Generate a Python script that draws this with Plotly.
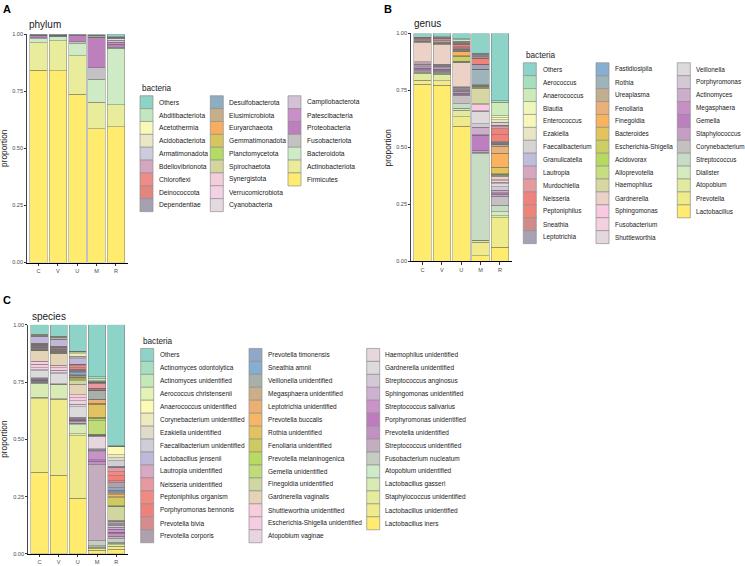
import plotly.graph_objects as go

W, H = 745, 566
FONT = "Liberation Sans, Arial, sans-serif"

samples = ["C", "V", "U", "M", "R"]

# ---------------- phylum ----------------
phylum_names = ["Others", "Abditibacteriota", "Acetothermia", "Acidobacteriota", "Armatimonadota",
                "Bdellovibrionota", "Chloroflexi", "Deinococcota", "Dependentiae", "Desulfobacterota",
                "Elusimicrobiota", "Euryarchaeota", "Gemmatimonadota", "Planctomycetota", "Spirochaetota",
                "Synergistota", "Verrucomicrobiota", "Cyanobacteria", "Campilobacterota", "Patescibacteria",
                "Proteobacteria", "Fusobacteriota", "Bacteroidota", "Actinobacteriota", "Firmicutes"]
phylum_colors = ["#8DD3C7", "#C2E6BE", "#F6F9B8", "#E9E7C5", "#CDCCDC", "#D3A7C0", "#EF8B88", "#E2857F",
                 "#A89FB3", "#8EADC2", "#C6AE8A", "#F9AD5F", "#D9C55E", "#B4DB63", "#D2D69D", "#F3CDD9",
                 "#F1D2E4", "#E5D9E0", "#D3C2D6", "#C98FC9", "#BD80BD", "#C3C1C1", "#CFEBC5", "#E9EC9B",
                 "#FFEB6E"]
phylum_C = [0.002, 0, 0, 0, 0, 0, 0, 0, 0, 0, 0, 0, 0, 0, 0.001, 0, 0, 0, 0.001, 0.001, 0.010, 0.004, 0.018, 0.120, 0.843]
phylum_V = [0.003, 0, 0, 0, 0, 0, 0, 0, 0.001, 0, 0, 0, 0, 0, 0, 0, 0, 0, 0.001, 0, 0.003, 0.002, 0.019, 0.130, 0.841]
phylum_U = [0.003, 0, 0, 0, 0, 0, 0, 0, 0, 0, 0, 0, 0, 0, 0, 0, 0, 0, 0.001, 0, 0.026, 0.012, 0.052, 0.169, 0.737]
phylum_M = [0.004, 0, 0, 0, 0, 0, 0, 0, 0.003, 0, 0, 0, 0, 0, 0.004, 0, 0, 0, 0.003, 0.002, 0.130, 0.052, 0.100, 0.115, 0.587]
phylum_R = [0.010, 0.002, 0, 0, 0.002, 0, 0, 0, 0.004, 0, 0, 0, 0, 0, 0, 0.002, 0, 0.006, 0.010, 0.008, 0.012, 0.006, 0.247, 0.097, 0.594]

# ---------------- genus ----------------
genus_names = ["Others", "Aerococcus", "Anaerococcus", "Blautia", "Enterococcus", "Ezakiella",
               "Faecalibacterium", "Granulicatella", "Lautropia", "Murdochiella", "Neisseria",
               "Peptoniphilus", "Sneathia", "Leptotrichia", "Fastidiosipila", "Rothia", "Ureaplasma",
               "Fenollaria", "Finegoldia", "Bacteroides", "Escherichia-Shigella", "Acidovorax",
               "Alloprevotella", "Haemophilus", "Gardnerella", "Sphingomonas", "Fusobacterium",
               "Shuttleworthia", "Veillonella", "Porphyromonas", "Actinomyces", "Megasphaera", "Gemella",
               "Staphylococcus", "Corynebacterium", "Streptococcus", "Dialister", "Atopobium", "Prevotella",
               "Lactobacillus"]
genus_colors = ["#8DD3C7", "#A6DFC0", "#CCEBB8", "#EEF6BC", "#F8F7BA", "#E8E5C4", "#D7D3D3", "#BFBCDC",
                "#D6A7C0", "#E49A9E", "#F0827E", "#EE8377", "#D08A88", "#A8A0B3", "#88AED0", "#9EB3BA",
                "#C0AE8E", "#E9B07A", "#F9B25F", "#E2C35E", "#CECF62", "#B6DA60", "#C7DE80", "#D7D7A4",
                "#ECD1C6", "#F9C9E2", "#F2D0DF", "#E5D7DE", "#DEDADC", "#D3C8D4", "#CCADCC", "#C690C5",
                "#BC7FBF", "#C69EC5", "#C4BFC0", "#C8DBC4", "#D4EBBE", "#E2EAA0", "#F0EB8A", "#FFEB6E"]
genus_C = [0.017, 0, 0, 0, 0, 0, 0, 0, 0, 0, 0.001, 0.002, 0.007, 0.006,
           0, 0, 0.002, 0, 0.001, 0, 0, 0, 0, 0.002, 0.087, 0.004, 0.003,
           0.003, 0.003, 0.003, 0.004, 0.007, 0.008, 0.003, 0.004, 0.004, 0.003, 0.031, 0.018, 0.777]
genus_V = [0.016, 0.001, 0.002, 0, 0, 0, 0, 0, 0, 0.001, 0.001, 0.003, 0.008, 0.008,
           0, 0, 0.004, 0, 0.001, 0.001, 0, 0, 0, 0.002, 0.088, 0.002, 0.002,
           0.002, 0.002, 0.003, 0.004, 0.006, 0.006, 0.004, 0.004, 0.004, 0.004, 0.030, 0.020, 0.772]
genus_U = [0.024, 0.003, 0.008, 0.002, 0.002, 0.002, 0.002, 0.002, 0.002, 0.003, 0.008, 0.004, 0.004, 0.003,
           0.002, 0.003, 0.003, 0.004, 0.016, 0.004, 0.021, 0.002, 0.002, 0.003, 0.105, 0.002, 0.003,
           0.002, 0.003, 0.005, 0.005, 0.008, 0.004, 0.006, 0.036, 0.021, 0.008, 0.029, 0.042, 0.592]
genus_M = [0.087, 0.001, 0.001, 0.001, 0.001, 0.002, 0.002, 0.006, 0.006, 0.002, 0.002, 0.023, 0.002, 0.020,
           0.002, 0.067, 0.002, 0.002, 0.001, 0.002, 0.002, 0.002, 0.004, 0.069, 0.003, 0.026, 0.001,
           0.002, 0.055, 0.015, 0.033, 0.003, 0.065, 0.008, 0.008, 0.380, 0.002, 0.006, 0.058, 0.026]
genus_R = [0.296, 0.006, 0.060, 0.008, 0.008, 0.012, 0.012, 0.003, 0.004, 0.010, 0.025, 0.030, 0.004, 0.004,
           0.003, 0.004, 0.006, 0.030, 0.061, 0.029, 0.002, 0.002, 0.004, 0.004, 0.014, 0.005, 0.006,
           0.008, 0.012, 0.015, 0.012, 0.005, 0.004, 0.006, 0.040, 0.029, 0.017, 0.008, 0.130, 0.062]

# ---------------- species ----------------
species_names = ["Others", "Actinomyces odontolytica", "Actinomyces unidentified", "Aerococcus christensenii",
                 "Anaerococcus unidentified", "Corynebacterium unidentified", "Ezakiella unidentified",
                 "Faecalibacterium unidentified", "Lactobacillus jensenii", "Lautropia unidentified",
                 "Neisseria unidentified", "Peptoniphilus organism", "Porphyromonas bennonis",
                 "Prevotella bivia", "Prevotella corporis", "Prevotella timonensis", "Sneathia amnii",
                 "Veillonella unidentified", "Megasphaera unidentified", "Leptotrichia unidentified",
                 "Prevotella buccalis", "Rothia unidentified", "Fenollaria unidentified",
                 "Prevotella melaninogenica", "Gemella unidentified", "Finegoldia unidentified",
                 "Gardnerella vaginalis", "Shuttleworthia unidentified", "Escherichia-Shigella unidentified",
                 "Atopobium vaginae", "Haemophilus unidentified", "Gardnerella unidentified",
                 "Streptococcus anginosus", "Sphingomonas unidentified", "Streptococcus salivarius",
                 "Porphyromonas unidentified", "Prevotella unidentified", "Streptococcus unidentified",
                 "Fusobacterium nucleatum", "Atopobium unidentified", "Lactobacillus gasseri",
                 "Staphylococcus unidentified", "Lactobacillus unidentified", "Lactobacillus iners"]
species_colors = ["#8DD3C7", "#A5DEC0", "#C4E9B8", "#E3F3B6", "#FDFAB3", "#EDEAC0", "#DEDBCB", "#CFCDD6",
                  "#C0B8DA", "#D9A8C2", "#E898A0", "#F08A82", "#F0807A", "#D78B8C", "#AFA0AE", "#90A8C8",
                  "#85AED0", "#A9B0A8", "#CCAE8A", "#EDB073", "#F7B565", "#E3C262", "#CDCB60", "#B9DA60",
                  "#BFDC78", "#D0D6A0", "#E5D3B8", "#F9CCDC", "#F5CCE2", "#EBD4E2", "#E6D6DE", "#DCDADA",
                  "#D5C8D6", "#CDB1D0", "#C992C8", "#BE7CBE", "#C291C3", "#C4ADBF", "#C5CDC2", "#CDEBC8",
                  "#D8EBB4", "#E5EB9A", "#F0EB8A", "#FFEB6E"]
species_C = [0.042, 0, 0, 0.002, 0.001, 0.002, 0.002, 0.002, 0.029, 0.003, 0.002, 0.002, 0.002,
             0.003, 0.002, 0.003, 0.003, 0.003, 0.003, 0.002, 0.002, 0, 0, 0, 0, 0.002,
             0.046, 0.014, 0.015, 0.010, 0.003, 0.030, 0.004, 0.004, 0.003, 0.002, 0.003, 0.004, 0.002,
             0.004, 0.060, 0.006, 0.322, 0.356]
species_V = [0.049, 0.002, 0.002, 0.002, 0.002, 0.003, 0.003, 0.002, 0.028, 0.002, 0.002, 0.002, 0.002,
             0.003, 0.002, 0.003, 0.003, 0.003, 0.003, 0.002, 0.002, 0, 0.002, 0, 0, 0.002,
             0.050, 0.012, 0.010, 0.012, 0.003, 0.044, 0, 0, 0.001, 0, 0.002, 0, 0,
             0.002, 0.060, 0.002, 0.333, 0.343]
species_U = [0.115, 0.001, 0.002, 0.003, 0.006, 0.010, 0.006, 0.004, 0.024, 0.002, 0.006, 0.008, 0.008,
             0.004, 0.003, 0.008, 0.008, 0.002, 0.003, 0.003, 0.003, 0.003, 0.004, 0.004, 0.004, 0.015,
             0.046, 0.014, 0.012, 0.016, 0.010, 0.046, 0.004, 0.005, 0.004, 0.003, 0.004, 0.006, 0.003,
             0.004, 0.040, 0.008, 0.273, 0.243]
species_M = [0.227, 0.008, 0.010, 0.002, 0.001, 0.001, 0.001, 0.001, 0.001, 0.004, 0.020, 0.004, 0.003,
             0.002, 0.001, 0.001, 0.001, 0.038, 0.002, 0.015, 0.003, 0.057, 0.005, 0.010, 0.060, 0.002,
             0.002, 0.001, 0.001, 0.002, 0.055, 0.003, 0.004, 0.006, 0.035, 0.006, 0.016, 0.331, 0.022,
             0.006, 0.002, 0.003, 0.010, 0.015]
species_R = [0.529, 0.001, 0.001, 0.002, 0.035, 0.012, 0.014, 0.024, 0.004, 0.003, 0.017, 0.018, 0.020,
             0.010, 0.021, 0.011, 0.008, 0.004, 0.003, 0.006, 0.008, 0.004, 0.036, 0.002, 0.002, 0.058,
             0.004, 0.004, 0.003, 0.003, 0.004, 0.004, 0.008, 0.010, 0.012, 0.008, 0.010, 0.012, 0.015,
             0.004, 0.006, 0.008, 0.012, 0.020]

tick_vals = [0, 0.25, 0.5, 0.75, 1.0]
tick_text = ["0.00", "0.25", "0.50", "0.75", "1.00"]


def fx(x):
    return x / W


def fy(y):
    return 1 - y / H


fig = go.Figure()

panels = [
    dict(names=phylum_names, colors=phylum_colors, vals=[phylum_C, phylum_V, phylum_U, phylum_M, phylum_R],
         xa="x", ya="y", xdom=(27, 127.6), ydom=(262.3, 31.6), title="phylum", title_xy=(27, 21.5),
         letter="A", letter_xy=(1, 6), ytitle_xy=(4.5, 147),
         leg_cols=[9, 9, 7], swatch_x=[140, 210.3, 288], text_x=[156.7, 227.3, 305.3],
         row0=100.3, dy=13.0, ltitle_xy=(140, 86), lfont=6.7),
    dict(names=genus_names, colors=genus_colors, vals=[genus_C, genus_V, genus_U, genus_M, genus_R],
         xa="x2", ya="y2", xdom=(411, 511.6), ydom=(261.2, 30.8), title="genus", title_xy=(412, 21),
         letter="B", letter_xy=(382, 6), ytitle_xy=(388, 146),
         leg_cols=[14, 14, 12], swatch_x=[523.3, 596, 677.3], text_x=[541, 612.7, 694.3],
         row0=67, dy=13.05, ltitle_xy=(524, 52.7), lfont=6.4),
    dict(names=species_names, colors=species_colors,
         vals=[species_C, species_V, species_U, species_M, species_R],
         xa="x3", ya="y3", xdom=(28, 127.7), ydom=(556.7, 325.3), title="species", title_xy=(30, 316.5),
         letter="C", letter_xy=(1, 300.5), ytitle_xy=(4.5, 441),
         leg_cols=[15, 15, 14], swatch_x=[140.7, 249, 366.7], text_x=[157.7, 265.7, 383.3],
         row0=355.7, dy=13.09, ltitle_xy=(140.7, 341.7), lfont=6.5),
]

annotations = []
layout_axes = {}

for p in panels:
    names, colors, vals = p["names"], p["colors"], p["vals"]
    n = len(names)
    # stacked bars: last legend entry at the bottom
    for i in reversed(range(n)):
        ys = [v[i] if v[i] > 0 else None for v in vals]
        fig.add_trace(go.Bar(
            x=samples, y=ys, name=names[i], xaxis=p["xa"], yaxis=p["ya"],
            marker=dict(color=colors[i], line=dict(color="#616161", width=0.4)),
            showlegend=False, hovertemplate=names[i] + ": %{y:.3f}<extra></extra>",
        ))

    xkey = "xaxis" + p["xa"][1:]
    ykey = "yaxis" + p["ya"][1:]
    layout_axes[xkey] = dict(
        domain=[fx(p["xdom"][0]), fx(p["xdom"][1])], anchor=p["ya"], type="category",
        range=[-0.6, 4.6], showline=True, linecolor="black", linewidth=1, ticks="outside",
        ticklen=2.5, tickwidth=0.6, tickcolor="#333333", showgrid=False, zeroline=False,
        tickfont=dict(family=FONT, size=5.6, color="#4d4d4d"), fixedrange=True)
    layout_axes[ykey] = dict(
        domain=[fy(p["ydom"][0]), fy(p["ydom"][1])], anchor=p["xa"], range=[0, 1],
        tickvals=tick_vals, ticktext=tick_text, showline=True, linecolor="#444444", linewidth=0.6,
        ticks="outside", ticklen=2, tickwidth=0.6, tickcolor="#333333", showgrid=False, zeroline=False,
        tickfont=dict(family=FONT, size=5.6, color="#4d4d4d"), fixedrange=True)

    # panel title, letter, y title
    annotations.append(dict(text=p["title"], x=fx(p["title_xy"][0]), y=fy(p["title_xy"][1]),
                            xref="paper", yref="paper", xanchor="left", yanchor="middle", showarrow=False,
                            font=dict(family=FONT, size=10, color="#1a1a1a")))
    annotations.append(dict(text="<b>" + p["letter"] + "</b>", x=fx(p["letter_xy"][0]), y=fy(p["letter_xy"][1]),
                            xref="paper", yref="paper", xanchor="left", yanchor="middle", showarrow=False,
                            font=dict(family=FONT, size=11, color="black")))
    annotations.append(dict(text="proportion", x=fx(p["ytitle_xy"][0]), y=fy(p["ytitle_xy"][1]),
                            xref="paper", yref="paper", xanchor="center", yanchor="middle", showarrow=False,
                            textangle=-90, font=dict(family=FONT, size=8.3, color="#1a1a1a")))

    # legend (column-major, drawn on the overlay axis)
    annotations.append(dict(text="bacteria", x=fx(p["ltitle_xy"][0]), y=fy(p["ltitle_xy"][1]),
                            xref="paper", yref="paper", xanchor="left", yanchor="middle", showarrow=False,
                            font=dict(family=FONT, size=8.2, color="#1a1a1a")))
    lx, ly, lc = [], [], []
    idx = 0
    for c, cnt in enumerate(p["leg_cols"]):
        for r in range(cnt):
            yc = p["row0"] + r * p["dy"]
            lx.append(p["swatch_x"][c] + 6.5)
            ly.append(yc)
            lc.append(colors[idx])
            annotations.append(dict(text=names[idx], x=fx(p["text_x"][c]), y=fy(yc),
                                    xref="paper", yref="paper", xanchor="left", yanchor="middle",
                                    showarrow=False,
                                    font=dict(family=FONT, size=p["lfont"], color="#1a1a1a")))
            idx += 1
    fig.add_trace(go.Scatter(
        x=lx, y=ly, mode="markers", xaxis="x4", yaxis="y4", showlegend=False, hoverinfo="skip",
        cliponaxis=False,
        marker=dict(symbol="square", size=13, color=lc, line=dict(color="#8f8f8f", width=0.7)),
    ))

layout_axes["xaxis4"] = dict(domain=[0, 1], range=[0, W], anchor="y4", visible=False, fixedrange=True)
layout_axes["yaxis4"] = dict(domain=[0, 1], range=[H, 0], anchor="x4", visible=False, fixedrange=True)

fig.update_layout(
    width=W, height=H, margin=dict(l=0, r=0, t=0, b=0),
    paper_bgcolor="white", plot_bgcolor="rgba(0,0,0,0)",
    barmode="stack", bargap=0.1, showlegend=False,
    font=dict(family=FONT, color="#1a1a1a"),
    annotations=annotations,
    **layout_axes,
)

fig.write_html("out.html")
